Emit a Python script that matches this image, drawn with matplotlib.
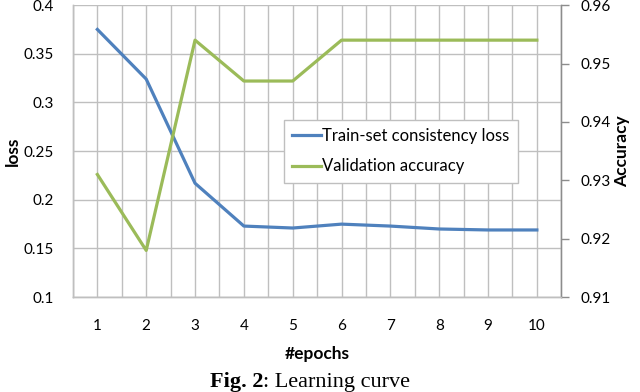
import numpy as np
import matplotlib
matplotlib.use('Agg')
import matplotlib.pyplot as plt

# Data
epochs = [1, 2, 3, 4, 5, 6, 7, 8, 9, 10]
train_loss = [0.375, 0.324, 0.217, 0.173, 0.171, 0.175, 0.173, 0.170, 0.169, 0.169]
val_acc = [0.931, 0.918, 0.954, 0.947, 0.947, 0.954, 0.954, 0.954, 0.954, 0.954]
loss_ticks = [0.1, 0.15, 0.2, 0.25, 0.3, 0.35, 0.4]
acc_ticks = [0.91, 0.92, 0.93, 0.94, 0.95, 0.96]

plt.rcParams['font.family'] = ['Lato', 'DejaVu Sans']
blue = '#4F81BD'
green = '#9BBB59'
grid_c = '#BFBFBF'

fig = plt.figure(figsize=(6.4, 3.92), dpi=100)
ax = fig.add_axes([0.114, 0.242, 0.763, 0.745])
ax2 = ax.twinx()

l1, = ax.plot(epochs, train_loss, color=blue, lw=2.3, label='Train-set consistency loss')
l2, = ax2.plot(epochs, val_acc, color=green, lw=2.3, label='Validation accuracy')

ax.set_xlim(0.5, 10.5)
ax.set_ylim(0.1, 0.4)
ax2.set_ylim(0.91, 0.96)

ax.set_xticks(epochs)
ax.set_xticks(np.arange(0.5, 11, 1), minor=True)
ax.set_yticks(loss_ticks)
ax.set_yticklabels([f'{v:g}' for v in loss_ticks])
ax2.set_yticks(acc_ticks)
ax2.set_yticklabels([f'{v:g}' for v in acc_ticks])

ax.grid(True, which='both', axis='x', color=grid_c, lw=1)
ax.grid(True, which='major', axis='y', color=grid_c, lw=1)
ax.set_axisbelow(True)

for a in (ax, ax2):
    for s in a.spines.values():
        s.set_color(grid_c)
        s.set_linewidth(1)
ax2.spines['right'].set_color('#8C8C8C')
ax.spines['top'].set_visible(False)
ax2.spines['top'].set_visible(False)

ax.tick_params(axis='x', which='both', length=0, pad=16, labelsize=11)
ax.tick_params(axis='y', length=0, pad=14, labelsize=11)
ax2.tick_params(axis='y', length=6, width=1, color='#8C8C8C', pad=8, labelsize=11)

ax.set_xlabel('#epochs', fontweight='bold', fontsize=12.5, labelpad=9)
ax.set_ylabel('loss', fontweight='bold', fontsize=12.5, labelpad=2)
ax2.set_ylabel('Accuracy', fontweight='bold', fontsize=12.5, labelpad=2)

leg = ax2.legend(handles=[l1, l2], loc='upper left', bbox_to_anchor=(0.432, 0.607),
                 frameon=True, fancybox=False, fontsize=12, handlelength=1.75,
                 handletextpad=0.05, borderpad=0.5, borderaxespad=0,
                 labelspacing=0.85, framealpha=1)
leg.get_frame().set_edgecolor(grid_c)
leg.get_frame().set_linewidth(1)

# caption: bold "Fig. 2" followed by regular text
cap_y = 0.014
t1 = fig.text(0.328, cap_y, 'Fig. 2', ha='left', va='baseline', fontsize=16,
              fontweight='bold', family='Liberation Serif')
fig.canvas.draw()
bb = t1.get_window_extent()
x2 = bb.x1 / fig.bbox.width
fig.text(x2, cap_y, ': Learning curve', ha='left', va='baseline', fontsize=16,
         family='Liberation Serif')

fig.savefig('out.png', dpi=100)
